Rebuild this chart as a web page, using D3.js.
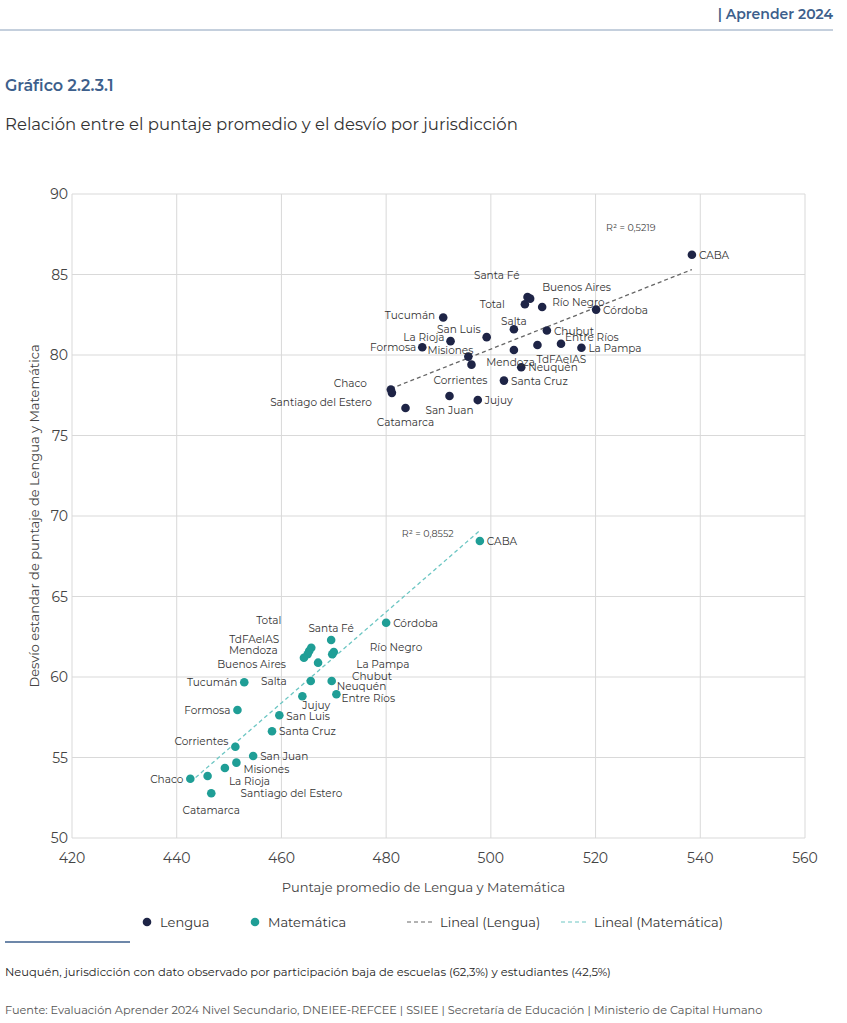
<!DOCTYPE html>
<html><head><meta charset="utf-8">
<script src="https://cdn.jsdelivr.net/npm/d3@7"></script>
<style>body{margin:0;background:#fff;font-family:Montserrat,"Noto Sans",sans-serif}</style>
</head><body><svg id="c" width="847" height="1023"></svg>
<script>
// jurisdicciones (nombre, puntaje, desvio)
const lengua = [
  ['CABA',538.4,86.23],['Santa Fé',507.0,83.6],['Buenos Aires',507.5,83.5],['Total',506.5,83.15],
  ['Río Negro',509.8,82.98],['Córdoba',520.1,82.82],['Tucumán',490.9,82.33],['Salta',504.4,81.6],
  ['Chubut',510.7,81.52],['San Luis',499.2,81.11],['La Rioja',492.3,80.86],['Entre Ríos',513.4,80.7],
  ['TdFAeIAS',508.9,80.62],['La Pampa',517.3,80.45],['Formosa',486.9,80.48],['Mendoza',504.4,80.31],
  ['Misiones',495.7,79.9],['Corrientes',496.3,79.4],['Neuquén',505.8,79.24],['Santa Cruz',502.5,78.41],
  ['Chaco',480.9,77.86],['Santiago del Estero',481.1,77.65],['San Juan',492.1,77.45],['Jujuy',497.5,77.2],
  ['Catamarca',483.7,76.71]
];
const matematica = [
  ['CABA',497.9,68.45],['Córdoba',480.0,63.37],['Santa Fé',469.5,62.3],['Total',465.7,61.82],
  ['TdFAeIAS',465.3,61.61],['Mendoza',465.0,61.41],['Buenos Aires',464.3,61.2],['Río Negro',470.0,61.55],
  ['La Pampa',469.7,61.41],['Chubut',467.0,60.89],['Salta',465.6,59.75],['Neuquén',469.6,59.75],
  ['Tucumán',452.9,59.67],['Entre Ríos',470.5,58.93],['Jujuy',464.0,58.8],['Formosa',451.6,57.95],
  ['San Luis',459.6,57.62],['Santa Cruz',458.2,56.63],['Corrientes',451.2,55.67],['San Juan',454.6,55.09],
  ['Misiones',451.4,54.68],['La Rioja',449.2,54.35],['Santiago del Estero',445.9,53.85],['Chaco',442.6,53.68],
  ['Catamarca',446.6,52.78]
];
const xTicks = [420,440,460,480,500,520,540,560];
const yTicks = [50,55,60,65,70,75,80,85,90];
const r2Lengua = 'R² = 0,5219', r2Mate = 'R² = 0,8552';

// label placement: [dx, dy, anchor]
const offL = {
  'Santa Fé':[-8,-22,'end'],'Buenos Aires':[12,-12,'start'],'Total':[-20,0,'end'],'Río Negro':[10,-5,'start'],
  'Tucumán':[-8,-2,'end'],'Salta':[0,-8,'middle'],'San Luis':[-6,-8,'end'],'La Rioja':[-6,-4,'end'],
  'Entre Ríos':[4,-7,'start'],'TdFAeIAS':[-1,14,'start'],'Formosa':[-6,0,'end'],'Mendoza':[21,12,'end'],
  'Misiones':[5,-7,'end'],'Corrientes':[-11,15,'middle'],'Chaco':[-24,-6,'end'],'Santiago del Estero':[-20,9,'end'],
  'San Juan':[0,14,'middle'],'Catamarca':[0,14,'middle']
};
const offM = {
  'Total':[-30,-28,'end'],'Santa Fé':[0,-12,'middle'],'TdFAeIAS':[-30,-12,'end'],'Mendoza':[-30,-4,'end'],
  'Buenos Aires':[-18,6,'end'],'Río Negro':[36,-5,'start'],'La Pampa':[24,10,'start'],'Chubut':[34,13,'start'],
  'Salta':[-24,0,'end'],'Tucumán':[-7,0,'end'],'Jujuy':[0,9,'start'],'Formosa':[-7,0,'end'],
  'Corrientes':[-7,-6,'end'],'Misiones':[7,6,'start'],'La Rioja':[4,13,'start'],'Santiago del Estero':[33,17,'start'],
  'Chaco':[-7,0,'end'],'Catamarca':[0,17,'middle'],'San Luis':[7,1,'start'],'Neuquén':[5,5,'start'],'Entre Ríos':[5,4,'start']
};

const svg = d3.select('#c');
const m = {left:72, right:805, top:194, bottom:838};
const x = d3.scaleLinear().domain([420,560]).range([m.left,m.right]);
const y = d3.scaleLinear().domain([50,90]).range([m.bottom,m.top]);

// header
svg.append('line').attr('x1',0).attr('x2',833).attr('y1',30).attr('y2',30).attr('stroke','#8aa0bb');
svg.append('text').attr('x',833).attr('y',19).attr('text-anchor','end').attr('fill','#3d5f8c')
  .attr('font-size',14).attr('font-weight',600).text('|  Aprender 2024');
svg.append('text').attr('x',5).attr('y',91).attr('fill','#3d5f8c').attr('font-size',16).attr('font-weight',600).text('Gráfico 2.2.3.1');
svg.append('text').attr('x',5).attr('y',130).attr('fill','#333').attr('font-size',16.5).text('Relación entre el puntaje promedio y el desvío por jurisdicción');

// grid
svg.append('g').selectAll('line').data(xTicks).join('line')
  .attr('x1',d=>x(d)).attr('x2',d=>x(d)).attr('y1',m.top).attr('y2',m.bottom).attr('stroke','#d9d9d9');
svg.append('g').selectAll('line').data(yTicks).join('line')
  .attr('x1',m.left).attr('x2',m.right).attr('y1',d=>y(d)).attr('y2',d=>y(d)).attr('stroke','#d9d9d9');
svg.append('g').selectAll('text').data(xTicks).join('text')
  .attr('x',d=>x(d)).attr('y',m.bottom+25).attr('text-anchor','middle').attr('font-size',14).attr('fill','#444').text(d=>d);
svg.append('g').selectAll('text').data(yTicks).join('text')
  .attr('x',m.left-4).attr('y',d=>y(d)+5).attr('text-anchor','end').attr('font-size',14).attr('fill','#444').text(d=>d);
svg.append('text').attr('x',(m.left+m.right)/2-15).attr('y',892).attr('text-anchor','middle').attr('font-size',13).attr('fill','#444')
  .text('Puntaje promedio de Lengua y Matemática');
svg.append('text').attr('transform',`translate(39,${(m.top+m.bottom)/2}) rotate(-90)`).attr('text-anchor','middle')
  .attr('font-size',13).attr('fill','#444').text('Desvío estandar de puntaje de Lengua y Matemática');

// linear fit
function fit(data){
  const mx=d3.mean(data,d=>d[1]), my=d3.mean(data,d=>d[2]);
  const b=d3.sum(data,d=>(d[1]-mx)*(d[2]-my))/d3.sum(data,d=>(d[1]-mx)**2);
  const [x0,x1]=d3.extent(data,d=>d[1]);
  return [[x0,my+b*(x0-mx)],[x1,my+b*(x1-mx)]];
}
function series(data, color, lineColor, off, r2, r2pos){
  const f=fit(data);
  svg.append('line').attr('x1',x(f[0][0])).attr('y1',y(f[0][1])).attr('x2',x(f[1][0])).attr('y2',y(f[1][1]))
    .attr('stroke',lineColor).attr('stroke-width',1.3).attr('stroke-dasharray','4,3');
  svg.append('text').attr('x',x(r2pos[0])).attr('y',y(r2pos[1])).attr('font-size',9.5).attr('fill','#444').text(r2);
  svg.append('g').selectAll('circle').data(data).join('circle')
    .attr('cx',d=>x(d[1])).attr('cy',d=>y(d[2])).attr('r',4.3).attr('fill',color);
  svg.append('g').selectAll('text').data(data).join('text')
    .attr('x',d=>x(d[1])+(off[d[0]]?off[d[0]][0]:7))
    .attr('y',d=>y(d[2])+(off[d[0]]?off[d[0]][1]:0)+4)
    .attr('text-anchor',d=>off[d[0]]?off[d[0]][2]:'start')
    .attr('font-size',10.5).attr('fill','#333').text(d=>d[0]);
}
series(lengua,'#1e2446','#666',offL,r2Lengua,[522,87.7]);
series(matematica,'#1f9e96','#6cc6c3',offM,r2Mate,[483,68.7]);

// legend
const lg = svg.append('g').attr('font-size',13).attr('fill','#333');
lg.append('circle').attr('cx',147).attr('cy',922).attr('r',4.3).attr('fill','#1e2446');
lg.append('text').attr('x',160).attr('y',927).text('Lengua');
lg.append('circle').attr('cx',255).attr('cy',922).attr('r',4.3).attr('fill','#1f9e96');
lg.append('text').attr('x',268).attr('y',927).text('Matemática');
lg.append('line').attr('x1',407).attr('x2',432).attr('y1',922).attr('y2',922).attr('stroke','#666').attr('stroke-dasharray','4,3');
lg.append('text').attr('x',440).attr('y',927).text('Lineal (Lengua)');
lg.append('line').attr('x1',561).attr('x2',587).attr('y1',922).attr('y2',922).attr('stroke','#6cc6c3').attr('stroke-dasharray','4,3');
lg.append('text').attr('x',594).attr('y',927).text('Lineal (Matemática)');

svg.append('line').attr('x1',5).attr('x2',130).attr('y1',942).attr('y2',942).attr('stroke','#3d5f8c').attr('stroke-width',1.5);
svg.append('text').attr('x',5).attr('y',976).attr('font-size',11.5).attr('fill','#222')
  .text('Neuquén, jurisdicción con dato observado por participación baja de escuelas (62,3%) y estudiantes (42,5%)');
svg.append('text').attr('x',5).attr('y',1014).attr('font-size',11.3).attr('fill','#555')
  .text('Fuente: Evaluación Aprender 2024 Nivel Secundario, DNEIEE-REFCEE | SSIEE | Secretaría de Educación | Ministerio de Capital Humano');
</script></body></html>
